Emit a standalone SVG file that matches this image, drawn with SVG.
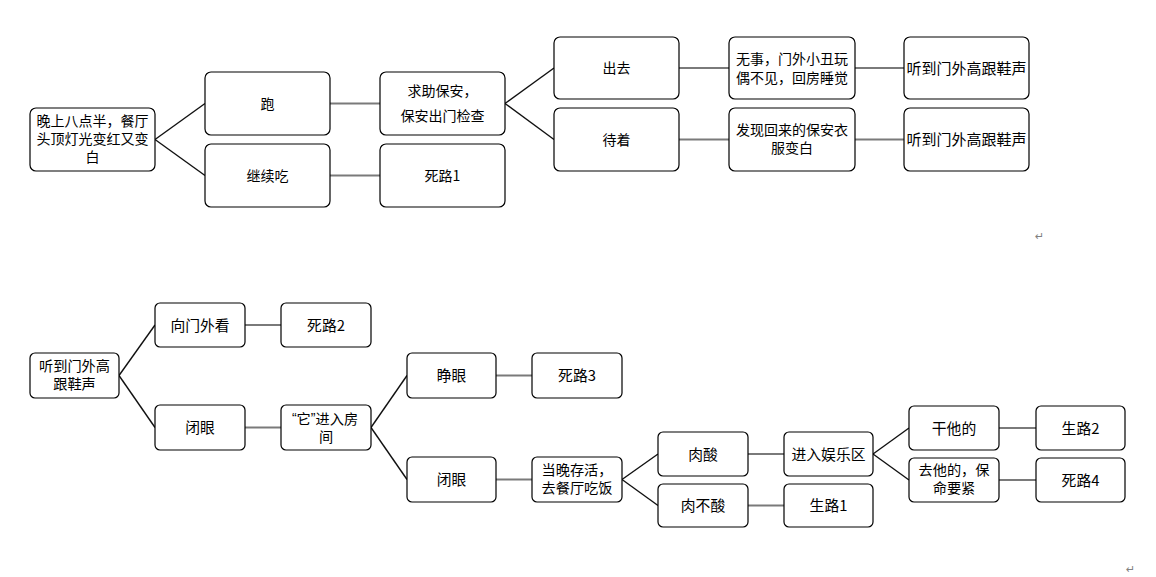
<svg xmlns="http://www.w3.org/2000/svg" width="1156" height="577" viewBox="0 0 1156 577">
<style>
.bg{fill:#fff}
.n rect{fill:#fff;stroke:#000;stroke-width:1.2}
.n text{font-family:"Noto Sans CJK SC","Liberation Sans",sans-serif;fill:#000;text-anchor:middle;dominant-baseline:central}
.t text{font-size:14px}
.b text{font-size:14.8px}
.b text.m{font-size:14.2px}
.q{font-family:"Liberation Sans",sans-serif}
.d{stroke:#111;stroke-width:1.4;fill:none}
.h{stroke:#7a7a7a;stroke-width:2;fill:none}
.pm{font-family:"DejaVu Sans",sans-serif;font-size:11px;fill:#808080}
</style>
<rect class="bg" x="0" y="0" width="1156" height="577"/>
<g id="connectors">
<line class="d" x1="155" y1="139.5" x2="205" y2="103.5"/>
<line class="d" x1="155" y1="139.5" x2="205" y2="175.5"/>
<line class="h" x1="330" y1="103.5" x2="380" y2="103.5"/>
<line class="h" x1="330" y1="175.5" x2="380" y2="175.5"/>
<line class="d" x1="505" y1="103.5" x2="554" y2="68"/>
<line class="d" x1="505" y1="103.5" x2="554" y2="139.5"/>
<line class="h" x1="679" y1="68" x2="729" y2="68"/>
<line class="h" x1="679" y1="139.5" x2="729" y2="139.5"/>
<line class="h" x1="855" y1="68" x2="904" y2="68"/>
<line class="h" x1="855" y1="139.5" x2="904" y2="139.5"/>
<line class="d" x1="119" y1="375.5" x2="155" y2="325"/>
<line class="d" x1="119" y1="375.5" x2="155" y2="427.5"/>
<line class="h" x1="245" y1="325" x2="281" y2="325"/>
<line class="h" x1="245" y1="427.5" x2="281" y2="427.5"/>
<line class="d" x1="371" y1="427.5" x2="407" y2="375.5"/>
<line class="d" x1="371" y1="427.5" x2="407" y2="479.5"/>
<line class="h" x1="496" y1="375.5" x2="532" y2="375.5"/>
<line class="h" x1="496" y1="479.5" x2="532" y2="479.5"/>
<line class="d" x1="622" y1="479.5" x2="658" y2="454"/>
<line class="d" x1="622" y1="479.5" x2="658" y2="505.5"/>
<line class="h" x1="748" y1="454" x2="784" y2="454"/>
<line class="h" x1="748" y1="505.5" x2="784" y2="505.5"/>
<line class="d" x1="873" y1="454" x2="909" y2="428"/>
<line class="d" x1="873" y1="454" x2="909" y2="480"/>
<line class="h" x1="999" y1="428" x2="1036" y2="428"/>
<line class="h" x1="999" y1="480" x2="1036" y2="480"/>
</g>
<g id="n1" class="n t"><rect x="30" y="108" width="125" height="63" rx="6"/><text x="92.5" y="120">晚上八点半，餐厅</text><text x="92.5" y="138">头顶灯光变红又变</text><text x="92.5" y="156">白</text></g>
<g id="n2" class="n t"><rect x="205" y="72" width="125" height="63" rx="6"/><text x="267.5" y="102.5">跑</text></g>
<g id="n3" class="n t"><rect x="205" y="144" width="125" height="63" rx="6"/><text x="267.5" y="174.5">继续吃</text></g>
<g id="n4" class="n t"><rect x="380" y="72" width="125" height="63" rx="6"/><text x="442.5" y="90">求助保安，</text><text x="442.5" y="115">保安出门检查</text></g>
<g id="n5" class="n t"><rect x="380" y="144" width="125" height="63" rx="6"/><text x="442.5" y="174.5">死路1</text></g>
<g id="n6" class="n t"><rect x="554" y="37" width="125" height="62" rx="6"/><text x="616.5" y="67">出去</text></g>
<g id="n7" class="n t"><rect x="554" y="108" width="125" height="63" rx="6"/><text x="616.5" y="138.5">待着</text></g>
<g id="n8" class="n t"><rect x="729" y="37" width="126" height="62" rx="6"/><text x="792" y="58">无事，门外小丑玩</text><text x="792" y="77">偶不见，回房睡觉</text></g>
<g id="n9" class="n t"><rect x="729" y="108" width="126" height="63" rx="6"/><text x="792" y="129">发现回来的保安衣</text><text x="792" y="147">服变白</text></g>
<g id="n10" class="n t"><rect x="904" y="37" width="125" height="62" rx="6"/><text x="966.5" y="67" style="font-size:15px">听到门外高跟鞋声</text></g>
<g id="n11" class="n t"><rect x="904" y="108" width="125" height="63" rx="6"/><text x="966.5" y="138.5" style="font-size:15px">听到门外高跟鞋声</text></g>
<g id="m1" class="n b"><rect x="30" y="353" width="89" height="45" rx="5"/><text class="m" x="74.5" y="365">听到门外高</text><text class="m" x="74.5" y="383">跟鞋声</text></g>
<g id="m2" class="n b"><rect x="155" y="303" width="90" height="44" rx="5"/><text x="200" y="324">向门外看</text></g>
<g id="m3" class="n b"><rect x="281" y="303" width="90" height="44" rx="5"/><text x="326" y="324">死路2</text></g>
<g id="m4" class="n b"><rect x="155" y="405" width="90" height="45" rx="5"/><text x="200" y="426.5">闭眼</text></g>
<g id="m5" class="n b"><rect x="281" y="405" width="90" height="45" rx="5"/><text class="m" x="325" y="418"><tspan class="q">“</tspan>它<tspan class="q">”</tspan>进入房</text><text class="m" x="326" y="436">间</text></g>
<g id="m6" class="n b"><rect x="407" y="353" width="89" height="45" rx="5"/><text x="451.5" y="374.5">睁眼</text></g>
<g id="m7" class="n b"><rect x="532" y="353" width="90" height="45" rx="5"/><text x="577" y="374.5">死路3</text></g>
<g id="m8" class="n b"><rect x="407" y="457" width="89" height="45" rx="5"/><text x="451.5" y="478.5">闭眼</text></g>
<g id="m9" class="n b"><rect x="532" y="457" width="90" height="45" rx="5"/><text class="m" x="577" y="469">当晚存活，</text><text class="m" x="577" y="487">去餐厅吃饭</text></g>
<g id="m10" class="n b"><rect x="658" y="432" width="90" height="44" rx="5"/><text x="703" y="453">肉酸</text></g>
<g id="m11" class="n b"><rect x="658" y="484" width="90" height="43" rx="5"/><text x="703" y="504.5">肉不酸</text></g>
<g id="m12" class="n b"><rect x="784" y="432" width="89" height="44" rx="5"/><text x="828.5" y="453">进入娱乐区</text></g>
<g id="m13" class="n b"><rect x="784" y="484" width="89" height="43" rx="5"/><text x="828.5" y="504.5">生路1</text></g>
<g id="m14" class="n b"><rect x="909" y="406" width="90" height="44" rx="5"/><text x="954" y="427">干他的</text></g>
<g id="m15" class="n b"><rect x="909" y="458" width="90" height="44" rx="5"/><text class="m" x="954" y="469">去他的，保</text><text class="m" x="954" y="487">命要紧</text></g>
<g id="m16" class="n b"><rect x="1036" y="406" width="89" height="44" rx="5"/><text x="1080.5" y="427">生路2</text></g>
<g id="m17" class="n b"><rect x="1036" y="458" width="89" height="44" rx="5"/><text x="1080.5" y="479">死路4</text></g>
<text class="pm" x="1035" y="240">↵</text>
<text class="pm" x="1126" y="573">↵</text>
</svg>
